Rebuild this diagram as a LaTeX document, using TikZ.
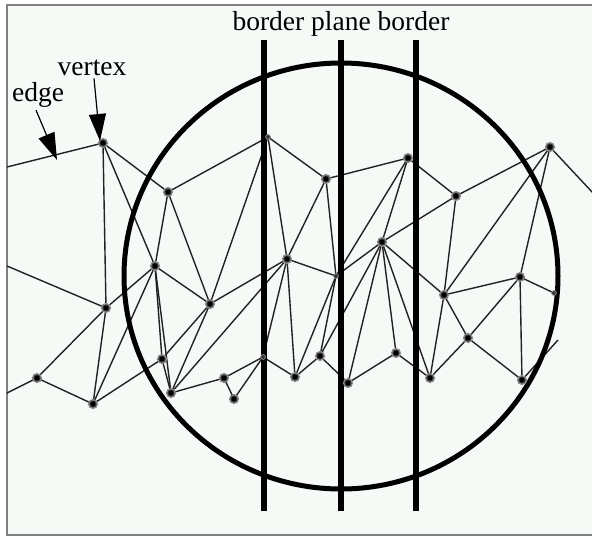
\documentclass[tikz,border=0pt]{standalone}
\usepackage{fontspec}
\setmainfont{Liberation Serif}
\usetikzlibrary{arrows.meta}
\definecolor{bgc}{HTML}{F6FAF7}
\definecolor{edgec}{HTML}{222222}
\begin{document}
\begin{tikzpicture}[x=1pt,y=-1pt,
  vtx/.style={circle,inner sep=0pt,minimum size=10pt},
  svtx/.style={circle,inner sep=0pt,minimum size=5pt},
  vdot/.style={fill=black!80,draw=black!45,line width=1.3pt},
  edg/.style={line width=1.4pt,draw=edgec},
  thick line/.style={line width=6pt,draw=black},
  ring/.style={line width=5pt,draw=black},
  lbl/.style={font=\fontsize{27.5}{30}\selectfont,inner sep=0pt,anchor=base},
  pointer/.style={line width=1.2pt,draw=black,-{Triangle[length=27pt,width=17pt]}}]
\useasboundingbox (0,0) rectangle (592,536);
\fill[white] (0,0) rectangle (592,536);
\fill[bgc] (7,5) rectangle (600,535);
\draw[black!50,line width=1.6pt] (600,5) -- (7,5) -- (7,535) -- (600,535);

% vertices
\node[vtx] (a) at (103,143) {};
\node[vtx] (b) at (168,192) {};
\node[vtx] (c) at (155,266) {};
\node[vtx] (d) at (106,308) {};
\node[vtx] (e) at (37,378) {};
\node[vtx] (f) at (93,404) {};
\node[vtx] (g) at (162,359) {};
\node[vtx] (h) at (171,393) {};
\node[vtx] (i) at (210,304) {};
\node[vtx] (j) at (224,378) {};
\node[vtx] (k) at (234,399) {};
\node[svtx] (s1) at (268,137) {};
\node[vtx] (l) at (326,179) {};
\node[vtx] (m) at (287,259) {};
\node[svtx] (s3) at (263,357) {};
\node[vtx] (n) at (295,377) {};
\node[vtx] (o) at (320,356) {};
\node[svtx] (s2) at (336,276) {};
\node[vtx] (p) at (408,158) {};
\node[vtx] (q) at (382,242) {};
\node[vtx] (r) at (348,383) {};
\node[vtx] (t) at (396,353) {};
\node[vtx] (u) at (430,378) {};
\node[vtx] (v) at (444,295) {};
\node[vtx] (w) at (456,196) {};
\node[vtx] (x) at (468,338) {};
\node[vtx] (y) at (550,147) {};
\node[vtx] (z) at (520,277) {};
\node[svtx] (s4) at (554,293) {};
\node[vtx] (zz) at (522,380) {};
\coordinate (L1) at (7,167);
\coordinate (L2) at (7,266);
\coordinate (L3) at (7,393);
\coordinate (R1) at (593,193);
\coordinate (R2) at (558,340);

% edges
\foreach \u/\v in {L1/a,a/b,a/d,a/c,b/c,b/i,b/s1,L2/d,d/c,d/e,d/f,e/L3,e/f,f/c,f/g,
  c/g,c/h,c/i,g/h,g/i,h/i,h/m,h/j,j/k,j/s3,k/s3,s3/m,s3/n,s1/i,s1/l,s1/m,l/m,l/p,l/s2,
  m/i,m/s2,m/n,n/o,o/s2,o/q,o/r,s2/q,s2/p,s2/n,q/p,q/w,q/r,q/t,q/u,q/v,p/w,r/t,t/u,
  u/v,u/x,v/x,v/w,v/z,v/y,w/y,y/z,y/R1,z/s4,z/x,z/zz,x/zz,zz/R2}
  \draw[edg] (\u.center) -- (\v.center);

% circle and border lines
\draw[ring] (341,276) ellipse [x radius=217, y radius=213];
\coordinate (B1t) at (264,40); \coordinate (B1b) at (264,511);
\coordinate (B2t) at (341,40); \coordinate (B2b) at (341,511);
\coordinate (B3t) at (416,40); \coordinate (B3b) at (416,511);
\draw[thick line] (B1t) -- (B1b);
\draw[thick line] (B2t) -- (B2b);
\draw[thick line] (B3t) -- (B3b);

% vertex discs on top
\foreach \n in {a,b,c,d,e,f,g,h,i,j,k,l,m,n,o,p,q,r,t,u,v,w,x,y,z,zz}{
  \draw[vdot] (\n.center) circle (4.4pt);
  \fill[black] (\n.center) circle (2.4pt);}
\foreach \n in {s1,s2,s3,s4}
  \draw[vdot,line width=0.8pt] (\n.center) circle (2.4pt);

% labels
\node[lbl] (title) at (341,30) {border plane border};
\node[lbl] (vl) at (92,75) {vertex};
\node[lbl] (el) at (38,101) {edge};
\coordinate (vt) at (100,141);
\coordinate (et) at (57,160);
\draw[pointer] (vl.south) ++(2,3) -- (vt);
\draw[pointer] (el.south) ++(-2,3) -- (et);
\end{tikzpicture}
\end{document}
